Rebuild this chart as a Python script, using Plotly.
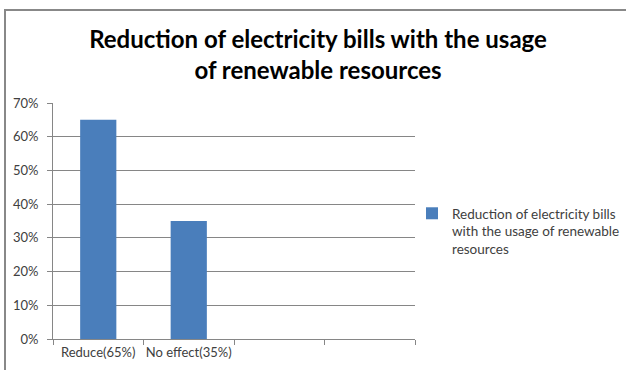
import plotly.graph_objects as go

categories = ["Reduce(65%)", "No effect(35%)", " ", "  "]
values = [65, 35, None, None]
series_name = "Reduction of electricity bills<br>with the usage of renewable<br>resources"
title_text = "<b>Reduction of electricity bills with the usage<br>of renewable resources</b>"

W, H = 626, 370
L, R, T, B = 53, 211, 103, 31
pw, ph = W - L - R, H - T - B

def px_x(x):
    return (x - L) / pw

def px_y(y):
    return (H - B - y) / ph

fig = go.Figure()
fig.add_trace(go.Bar(
    x=categories, y=values, name=series_name,
    marker=dict(color="#4a7ebb", line=dict(width=0)),
    width=0.4, showlegend=True,
))

axis_col = "#868686"
fam = "Lato, Open Sans, sans-serif"
tick_font = dict(family=fam, size=13, color="#404040")

fig.update_layout(
    width=W, height=H,
    margin=dict(l=L, r=R, t=T, b=B, autoexpand=False),
    paper_bgcolor="white", plot_bgcolor="white",
    title=dict(text=title_text, x=318 / W, xanchor="center",
               y=1 - 48 / H, yanchor="middle", yref="container",
               font=dict(family=fam, size=24, color="#000000"), automargin=False),
    xaxis=dict(type="category", range=[-0.5, 3.5], tickson="boundaries",
               ticks="outside", ticklen=5, tickcolor=axis_col,
               showline=True, linecolor=axis_col, linewidth=1,
               showgrid=False, tickfont=tick_font, fixedrange=True,
               tickangle=0, automargin=False, ticklabelstandoff=1),
    yaxis=dict(range=[0, 70], dtick=10, ticksuffix="%",
               ticks="outside", ticklen=5, tickcolor=axis_col,
               showline=True, linecolor=axis_col, linewidth=1,
               showgrid=True, gridcolor=axis_col, gridwidth=1,
               zeroline=False, tickfont=tick_font, ticklabelstandoff=6,
               automargin=False),
    legend=dict(x=px_x(412), y=px_y(198), xanchor="left", yanchor="top",
                valign="top", font=dict(family=fam, size=13.5, color="#404040"),
                bgcolor="rgba(0,0,0,0)", tracegroupgap=0),
    bargap=0.6,
    shapes=[dict(type="rect", xref="paper", yref="paper",
                 x0=px_x(5), x1=px_x(640), y0=px_y(380), y1=px_y(10),
                 line=dict(color="#888888", width=2), fillcolor="rgba(0,0,0,0)", layer="below")],
)

fig.write_html("out.html")
